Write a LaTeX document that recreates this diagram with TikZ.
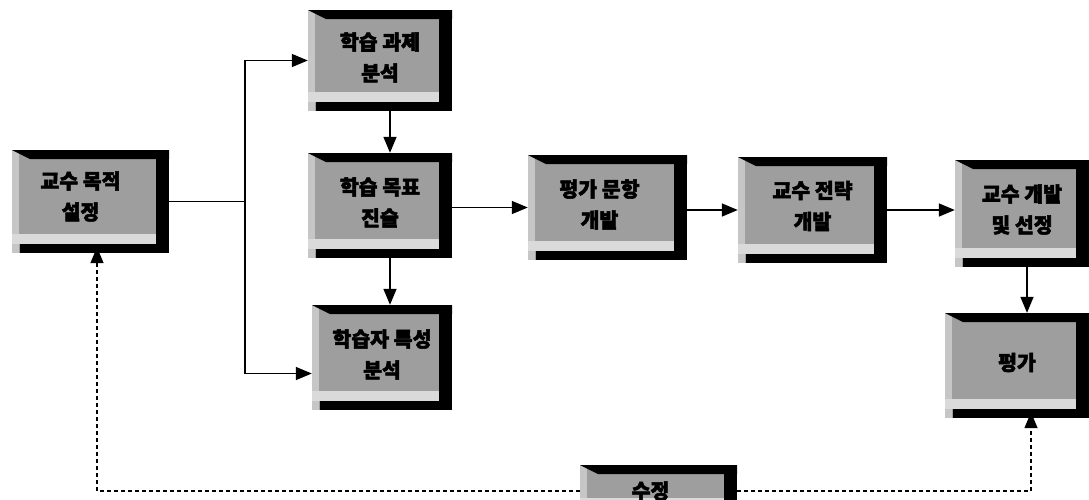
\documentclass[tikz,border=0pt]{standalone}
\usepackage{fontspec}
\newfontfamily\kr{Noto Sans CJK KR}[BoldFeatures={FakeBold=2.5}]
\usetikzlibrary{calc,arrows.meta}
\definecolor{face}{HTML}{9E9E9E}
\definecolor{lite}{HTML}{DADADA}
\definecolor{edge}{HTML}{C6C6C6}
\tikzset{
 bevel/.style={rectangle, inner sep=0pt, fill=face, path picture={
   \path (path picture bounding box.north west) coordinate (pnw)
         (path picture bounding box.south east) coordinate (pse);
   \fill[edge] (pnw) rectangle ($(pse -| pnw)+(7,0)$);
   \fill[lite] ($(pse -| pnw)+(0,-19)$) rectangle ($(pse)+(-13,-9)$);
   \fill[black] (pnw) -- (pnw -| pse) -- ++(0,9) -- ($(pnw)+(18,9)$) -- cycle;
   \fill[black] ($(pnw -| pse)+(-13,0)$) rectangle (pse);
   \fill[black] ($(pse -| pnw)+(8,-9)$) rectangle (pse);
 }},
 txt/.style={font=\kr\bfseries\fontsize{20.5}{31}\selectfont, align=center, text=black, inner sep=0pt},
 arr/.style={line width=1.5pt, -{Triangle[length=16pt,width=13pt]}},
 ln/.style={line width=1.5pt},
 dsh/.style={dash pattern=on 4pt off 3pt},
}
\begin{document}
\begin{tikzpicture}[x=1pt,y=-1pt]
\useasboundingbox (0,0) rectangle (1089,499);
\clip (0,0) rectangle (1089,499);
\node[bevel, minimum width=157, minimum height=103,
  label={[txt, xshift=-10pt, yshift=5pt]center:{교수 목적\\설정}}] (b1) at (90.5,201.5) {};
\node[bevel, minimum width=144, minimum height=101,
  label={[txt, yshift=3pt]center:{학습 과제\\분석}}] (b2) at (380,60.5) {};
\node[bevel, minimum width=144, minimum height=105,
  label={[txt, yshift=3pt]center:{학습 목표\\진술}}] (b3) at (380,205.5) {};
\node[bevel, minimum width=140, minimum height=105,
  label={[txt, yshift=3pt]center:{학습자 특성\\분석}}] (b4) at (382,357.5) {};
\node[bevel, minimum width=159, minimum height=105,
  label={[txt, xshift=-8pt, yshift=3pt]center:{평가 문항\\개발}}] (b5) at (607.5,207.5) {};
\node[bevel, minimum width=149, minimum height=106,
  label={[txt, yshift=4pt]center:{교수 전략\\개발}}] (b6) at (812.5,210) {};
\node[bevel, minimum width=134, minimum height=107,
  label={[txt, yshift=4pt]center:{교수 개발\\및 선정}}] (b7) at (1022,213.5) {};
\node[bevel, minimum width=144, minimum height=105,
  label={[txt, yshift=3pt]center:{평가}}] (b8) at (1017,365.5) {};
\node[bevel, minimum width=157, minimum height=52,
  label={[txt, xshift=-8pt]center:{수정}}] (b9) at (658.5,491) {};
% connectors
\path (b1.east) ++(76,0) coordinate (br);
\draw[ln] (b1.east) -- (br);
\draw[arr] (br) |- (b2.west);
\draw[arr] (br) |- ([yshift=-16pt]b4.west);
\draw[arr] ([xshift=10pt]b2.south) -- ([xshift=10pt]b3.north);
\draw[arr] ([xshift=10pt]b3.south) -- ([xshift=8pt]b4.north);
\draw[arr] (b3.east |- b5.west) -- (b5.west);
\draw[arr] (b5.east |- b6.west) -- (b6.west);
\draw[arr] (b6.east) -- (b6.east -| b7.west);
\draw[arr] ([xshift=5pt]b7.south) -- ([xshift=10pt]b8.north);
\draw[arr, dsh, shorten >=-6pt] (b9.west) -| ([xshift=6.5pt]b1.south);
\draw[arr, dsh, shorten >=-6pt] (b9.east) -| ([xshift=14pt]b8.south);
\end{tikzpicture}
\end{document}
